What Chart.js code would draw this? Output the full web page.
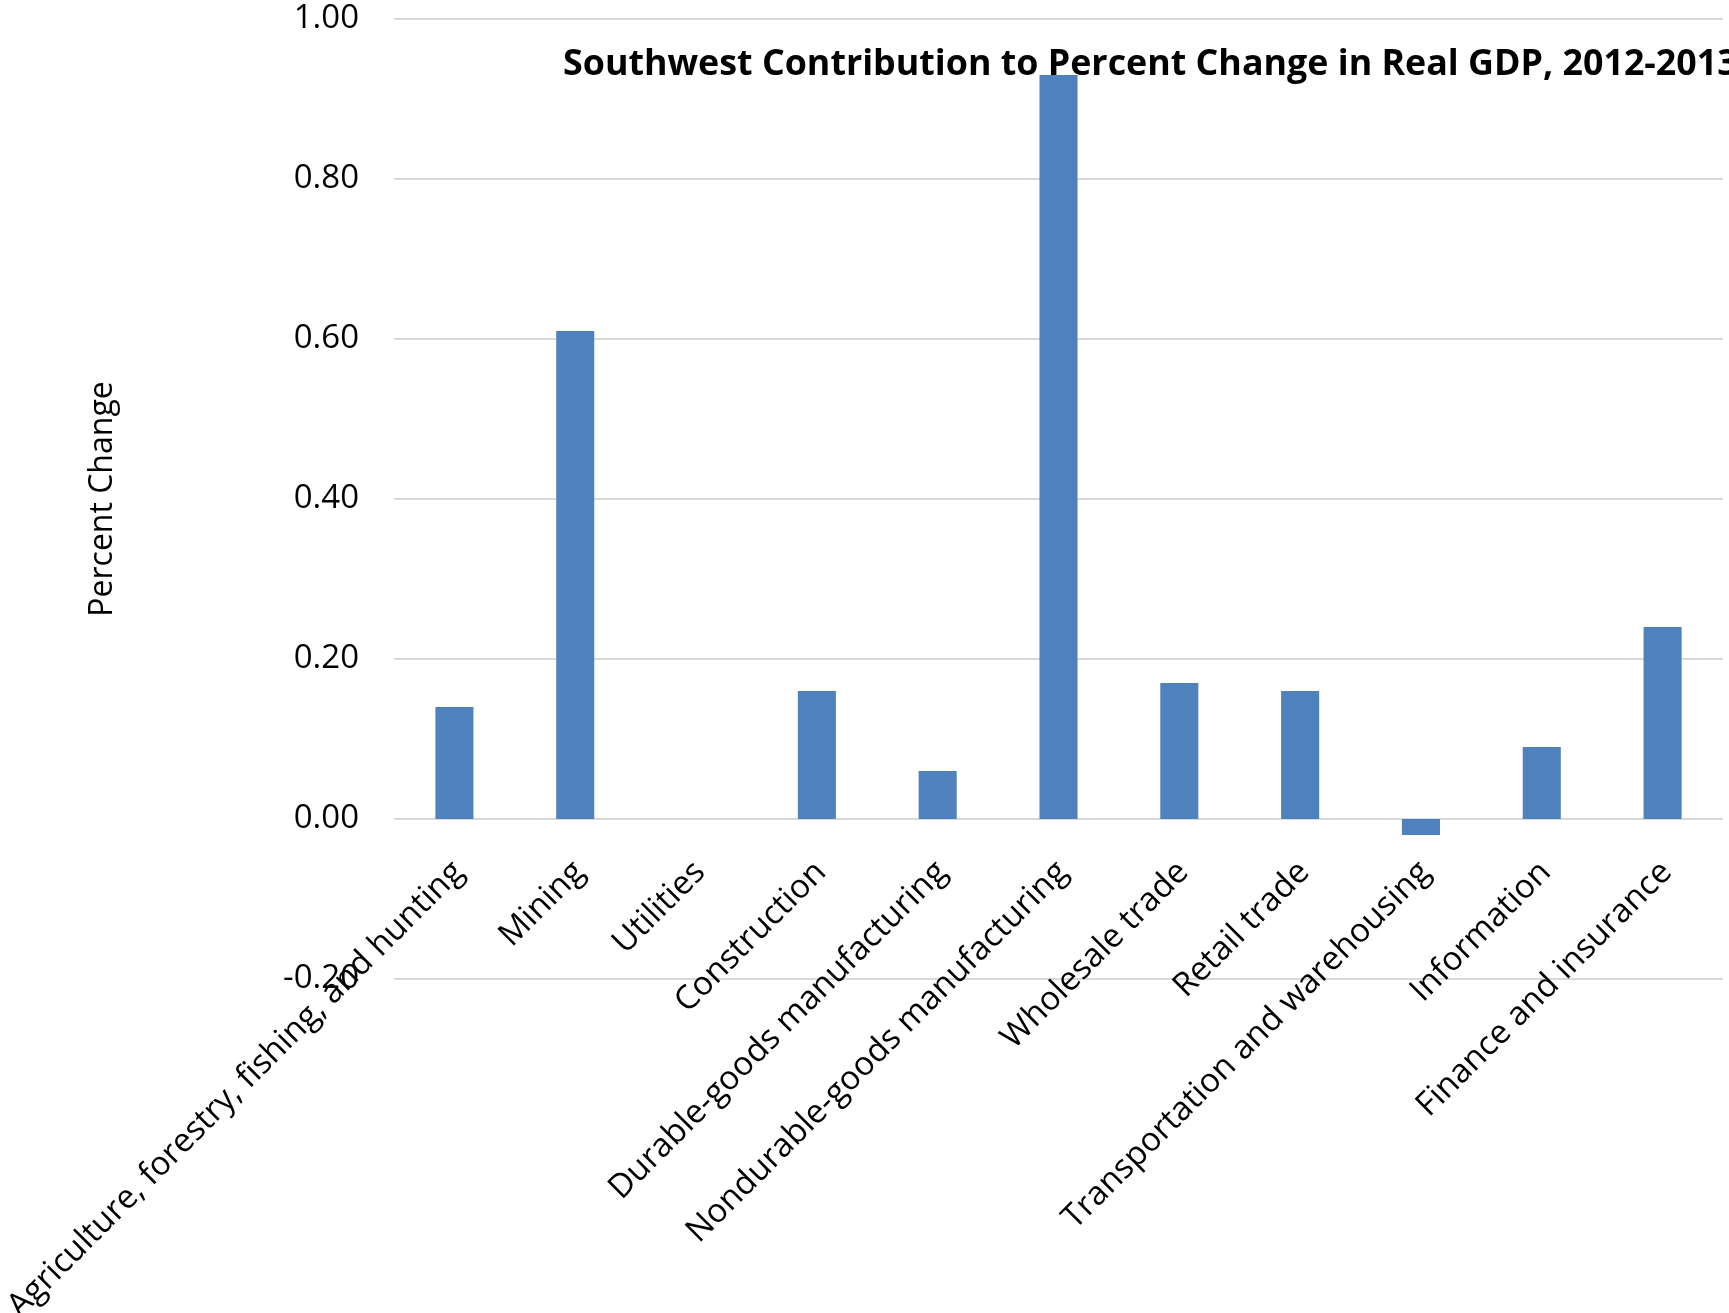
<!DOCTYPE html>
<html>
<head>
<meta charset="utf-8">
<script src="https://cdn.jsdelivr.net/npm/chart.js@4/dist/chart.umd.min.js"></script>
<style>
  html, body { margin: 0; padding: 0; background: #ffffff; }
  #wrap { width: 1729px; height: 1313px; }
</style>
</head>
<body>
<div id="wrap"><canvas id="c" width="1729" height="1313"></canvas></div>
<script>
const chartTitle = 'Southwest Contribution to Percent Change in Real GDP, 2012-2013';
const yAxisTitle = 'Percent Change';
const categories = [
  'Agriculture, forestry, fishing, and hunting',
  'Mining',
  'Utilities',
  'Construction',
  'Durable-goods manufacturing',
  'Nondurable-goods manufacturing',
  'Wholesale trade',
  'Retail trade',
  'Transportation and warehousing',
  'Information',
  'Finance and insurance'
];
const contribution = [0.14, 0.61, 0.00, 0.16, 0.06, 0.93, 0.17, 0.16, -0.02, 0.09, 0.24];
const yMin = -0.2;
const yMax = 1.0;
const yStep = 0.2;

const fontFamily = '"Open Sans", "Noto Sans", sans-serif';

const fixedTitle = {
  id: 'fixedTitle',
  afterDraw(chart) {
    const ctx = chart.ctx;
    ctx.save();
    ctx.font = 'bold 35.8px ' + fontFamily;
    ctx.fillStyle = '#000000';
    ctx.textAlign = 'left';
    ctx.textBaseline = 'alphabetic';
    ctx.fillText(chartTitle, 563, 75);
    ctx.restore();
  }
};

new Chart(document.getElementById('c'), {
  type: 'bar',
  data: {
    labels: categories,
    datasets: [{
      label: 'Contribution',
      data: contribution,
      backgroundColor: '#4f81bd',
      borderWidth: 0,
      barPercentage: 0.315,
      categoryPercentage: 1.0
    }]
  },
  options: {
    responsive: false,
    animation: false,
    devicePixelRatio: 1,
    layout: {
      autoPadding: false,
      padding: { top: 19, right: 6, bottom: 334, left: 0 }
    },
    plugins: {
      legend: { display: false },
      title: { display: false },
      tooltip: { enabled: false }
    },
    scales: {
      x: {
        position: { y: 0 },
        grid: { display: false, drawTicks: false },
        border: { display: false },
        ticks: {
          autoSkip: false,
          maxRotation: 45,
          minRotation: 45,
          padding: 34,
          labelOffset: 4,
          color: '#000000',
          font: { family: fontFamily, size: 33 }
        },
        afterFit(scale) {
          scale.height = 0;
          scale.paddingLeft = 0;
          scale.paddingRight = 0;
          scale.paddingTop = 0;
          scale.paddingBottom = 0;
        }
      },
      y: {
        min: yMin,
        max: yMax,
        grid: { color: '#d9d9d9', lineWidth: 2, drawTicks: false },
        border: { display: false },
        ticks: {
          stepSize: yStep,
          padding: 35,
          color: '#000000',
          font: { family: fontFamily, size: 33 },
          callback: (v) => (Math.abs(v) < 1e-9 ? 0 : Number(v)).toFixed(2)
        },
        title: {
          display: true,
          text: yAxisTitle,
          color: '#000000',
          font: { family: fontFamily, size: 32 },
          padding: { top: 84, bottom: 0 }
        },
        afterFit(scale) {
          scale.width = 394;
          scale.paddingTop = 0;
          scale.paddingBottom = 0;
          scale.paddingLeft = 0;
          scale.paddingRight = 0;
        }
      }
    }
  },
  plugins: [fixedTitle]
});
</script>
</body>
</html>
